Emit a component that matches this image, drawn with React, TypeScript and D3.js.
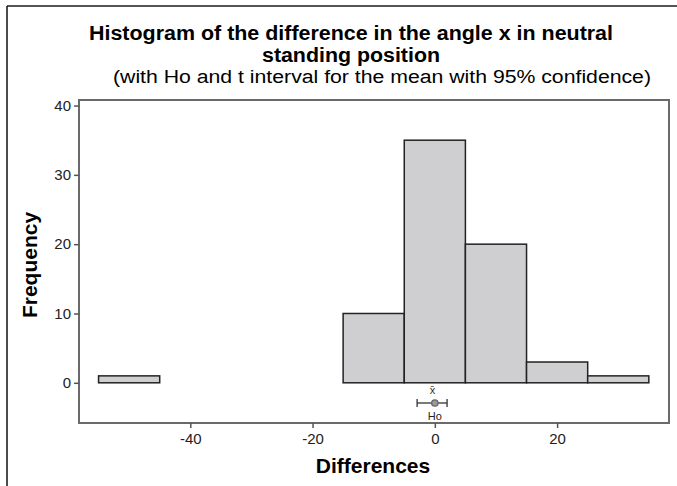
import { useEffect, useRef } from "react";
import { axisBottom, axisLeft, format, scaleLinear, select } from "d3";

// histogram bins (midpoints) and counts
const binMids = [-50, -40, -30, -20, -10, 0, 10, 20, 30];
const frequencies = [1, 0, 0, 0, 10, 35, 20, 3, 1];
const binWidth = 10;

const xTicks = [-40, -20, 0, 20];
const yTicks = [0, 10, 20, 30, 40];

// t interval for the mean + hypothesised value
const meanValue = -0.4;
const ciLow = -2.9;
const ciHigh = 2.0;
const h0 = 0;

const titleLines = [
  "Histogram of the difference in the angle x in neutral",
  "standing position",
];
const subtitle = "(with Ho and t interval for the mean with 95% confidence)";

const W = 677;
const H = 486;
const font = "'Liberation Sans', Arial, sans-serif";
const fmt = (d: any) => format("d")(d).replace("\u2212", "-");

export default function App() {
  const svgRef = useRef<SVGSVGElement>(null);

  useEffect(() => {
    const svg = select(svgRef.current);
    svg.selectAll("*").remove();

    const xScale = scaleLinear().domain([-58.2, 38.3]).range([79, 669]);
    const yScale = scaleLinear().domain([-5.8, 40.8]).range([423, 100]);

    // outer border (only top + left show in the crop)
    svg.append("line").attr("x1", 7).attr("x2", W).attr("y1", 6).attr("y2", 6)
      .attr("stroke", "#555").attr("stroke-width", 2);
    svg.append("line").attr("x1", 7).attr("x2", 7).attr("y1", 6).attr("y2", H)
      .attr("stroke", "#111").attr("stroke-width", 1.5);

    // titles
    const t = svg.append("g").attr("font-family", font).attr("fill", "#000");
    t.append("text").attr("x", 351).attr("y", 40).attr("text-anchor", "middle")
      .attr("font-size", 20).attr("font-weight", "bold")
      .attr("textLength", 524).attr("lengthAdjust", "spacingAndGlyphs").text(titleLines[0]);
    t.append("text").attr("x", 351).attr("y", 62).attr("text-anchor", "middle")
      .attr("font-size", 20).attr("font-weight", "bold")
      .attr("textLength", 178).attr("lengthAdjust", "spacingAndGlyphs").text(titleLines[1]);
    t.append("text").attr("x", 382).attr("y", 83).attr("text-anchor", "middle")
      .attr("font-size", 18).attr("textLength", 538).attr("lengthAdjust", "spacingAndGlyphs")
      .text(subtitle);

    // bars
    const data = binMids.map((m, i) => ({ m, f: frequencies[i] })).filter((d) => d.f > 0);
    svg.append("g").selectAll("rect").data(data).join("rect")
      .attr("x", (d) => xScale(d.m - binWidth / 2))
      .attr("width", (d) => xScale(d.m + binWidth / 2) - xScale(d.m - binWidth / 2))
      .attr("y", (d) => yScale(d.f))
      .attr("height", (d) => yScale(0) - yScale(d.f))
      .attr("fill", "#cfcfd1").attr("stroke", "#222").attr("stroke-width", 1.5);

    // interval glyph
    const yCI = 403;
    const g = svg.append("g").attr("stroke", "#333").attr("stroke-width", 1.3);
    g.append("line").attr("x1", xScale(ciLow)).attr("x2", xScale(ciHigh)).attr("y1", yCI).attr("y2", yCI);
    [ciLow, ciHigh].forEach((v) => {
      g.append("line").attr("x1", xScale(v)).attr("x2", xScale(v)).attr("y1", yCI - 4).attr("y2", yCI + 4);
    });
    g.append("circle").attr("cx", xScale(h0)).attr("cy", yCI).attr("r", 3.2)
      .attr("fill", "#9a9a9a").attr("stroke", "#666");
    svg.append("text").attr("x", xScale(meanValue)).attr("y", 394).attr("text-anchor", "middle")
      .attr("font-family", font).attr("font-size", 11).attr("fill", "#333").text("x\u0304");
    svg.append("text").attr("x", xScale(h0)).attr("y", 420).attr("text-anchor", "middle")
      .attr("font-family", font).attr("font-size", 11).attr("fill", "#222").text("Ho");

    // frame
    svg.append("rect").attr("x", 79).attr("y", 100).attr("width", 590).attr("height", 323)
      .attr("fill", "none").attr("stroke", "#6a6a6a").attr("stroke-width", 2);

    // axes
    const yAxis = axisLeft(yScale).tickValues(yTicks).tickSize(5).tickPadding(3).tickFormat(fmt);
    const ya = svg.append("g").attr("transform", "translate(79,0)").call(yAxis);
    const xAxis = axisBottom(xScale).tickValues(xTicks).tickSize(5).tickPadding(5).tickFormat(fmt);
    const xa = svg.append("g").attr("transform", "translate(0,423)").call(xAxis);
    [ya, xa].forEach((a) => {
      a.select(".domain").remove();
      a.selectAll("line").attr("stroke", "#555").attr("stroke-width", 1.5);
      a.selectAll("text").attr("font-family", font).attr("font-size", 15).attr("fill", "#222");
    });

    // axis titles
    svg.append("text").attr("x", 373).attr("y", 473).attr("text-anchor", "middle")
      .attr("font-family", font).attr("font-size", 21).attr("font-weight", "bold").text("Differences");
    svg.append("text").attr("transform", "translate(37,265) rotate(-90)").attr("text-anchor", "middle")
      .attr("font-family", font).attr("font-size", 21).attr("font-weight", "bold").text("Frequency");
  }, []);

  return (
    <svg ref={svgRef} width={W} height={H}
      style={{ position: "absolute", left: 0, top: 0, background: "#fff" }} />
  );
}
